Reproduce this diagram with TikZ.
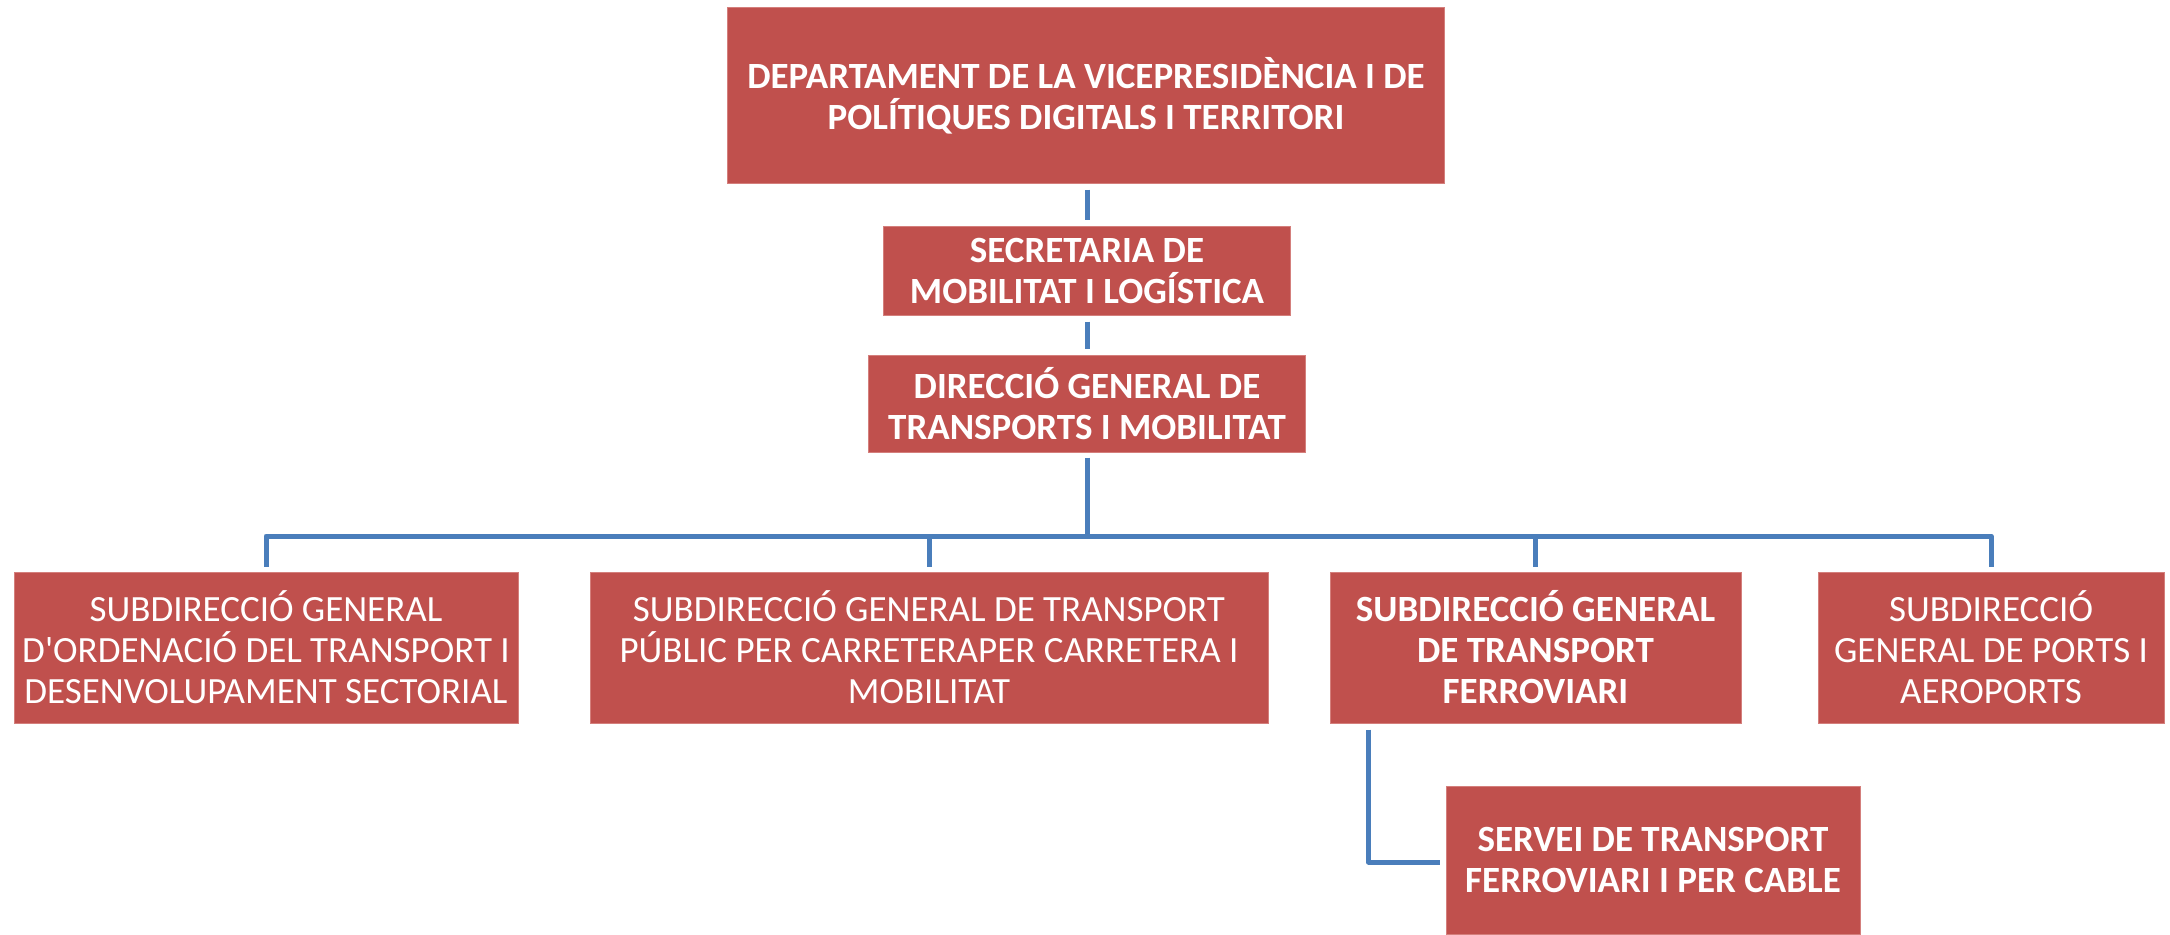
\documentclass[tikz,border=0pt]{standalone}
\usepackage{fontspec}
\setmainfont{Carlito}
\usetikzlibrary{calc}
\definecolor{boxred}{HTML}{C0504D}
\definecolor{boxedge}{HTML}{D47F7C}
\definecolor{linkblue}{HTML}{4A7EBB}
\begin{document}
\begin{tikzpicture}[x=1pt,y=-1pt,
  orgbox/.style={fill=boxred, draw=boxedge, line width=1pt, text=white, align=center,
    inner sep=0pt, font=\fontsize{37}{41}\selectfont, minimum width=#1},
  boldtxt/.style={font=\fontsize{37}{41}\selectfont\bfseries},
  conn/.style={draw=linkblue, line width=5pt, line join=round}]
\useasboundingbox (0,0) rectangle (2170,934);
\node[orgbox=717pt, minimum height=175pt, boldtxt] (top) at (1086,95.5)
  {DEPARTAMENT DE LA VICEPRESIDÈNCIA I DE\\POLÍTIQUES DIGITALS I TERRITORI};
\node[orgbox=407pt, minimum height=89pt, boldtxt] (sec) at (1087,270.5)
  {SECRETARIA DE\\MOBILITAT I LOGÍSTICA};
\node[orgbox=437pt, minimum height=97pt, boldtxt] (dir) at (1087,403.5)
  {DIRECCIÓ GENERAL DE\\TRANSPORTS I MOBILITAT};
\node[orgbox=504pt, minimum height=151pt] (s1) at (266,647.5)
  {SUBDIRECCIÓ GENERAL\\D\textquotesingle ORDENACIÓ DEL TRANSPORT I\\DESENVOLUPAMENT SECTORIAL};
\node[orgbox=678pt, minimum height=151pt] (s2) at (929,647.5)
  {SUBDIRECCIÓ GENERAL DE TRANSPORT\\PÚBLIC PER CARRETERAPER CARRETERA I\\MOBILITAT};
\node[orgbox=411pt, minimum height=151pt, boldtxt] (s3) at (1535.5,647.5)
  {SUBDIRECCIÓ GENERAL\\DE TRANSPORT\\FERROVIARI};
\node[orgbox=346pt, minimum height=151pt] (s4) at (1991,647.5)
  {SUBDIRECCIÓ\\GENERAL DE PORTS I\\AEROPORTS};
\node[orgbox=414pt, minimum height=148pt, boldtxt] (sv) at (1653,860)
  {SERVEI DE TRANSPORT\\FERROVIARI I PER CABLE};
\coordinate (bus) at (1087,536);
\draw[conn, shorten <=6pt, shorten >=6pt] (top.south -| sec.north) -- (sec.north);
\draw[conn, shorten <=6pt, shorten >=6pt] (sec.south) -- (dir.north);
\draw[conn, shorten <=5pt] (dir.south) -- (bus);
\draw[conn, shorten <=5pt, shorten >=5pt] (s1.north) -- (s1.north |- bus) -- (s4.north |- bus) -- (s4.north);
\draw[conn, shorten >=5pt] (s2.north |- bus) -- (s2.north);
\draw[conn, shorten >=5pt] (s3.north |- bus) -- (s3.north);
\draw[conn, shorten <=6pt, shorten >=6pt] ($(s3.south west)+(39,0)$) |- ($(sv.west)+(0,2)$);
\end{tikzpicture}
\end{document}
